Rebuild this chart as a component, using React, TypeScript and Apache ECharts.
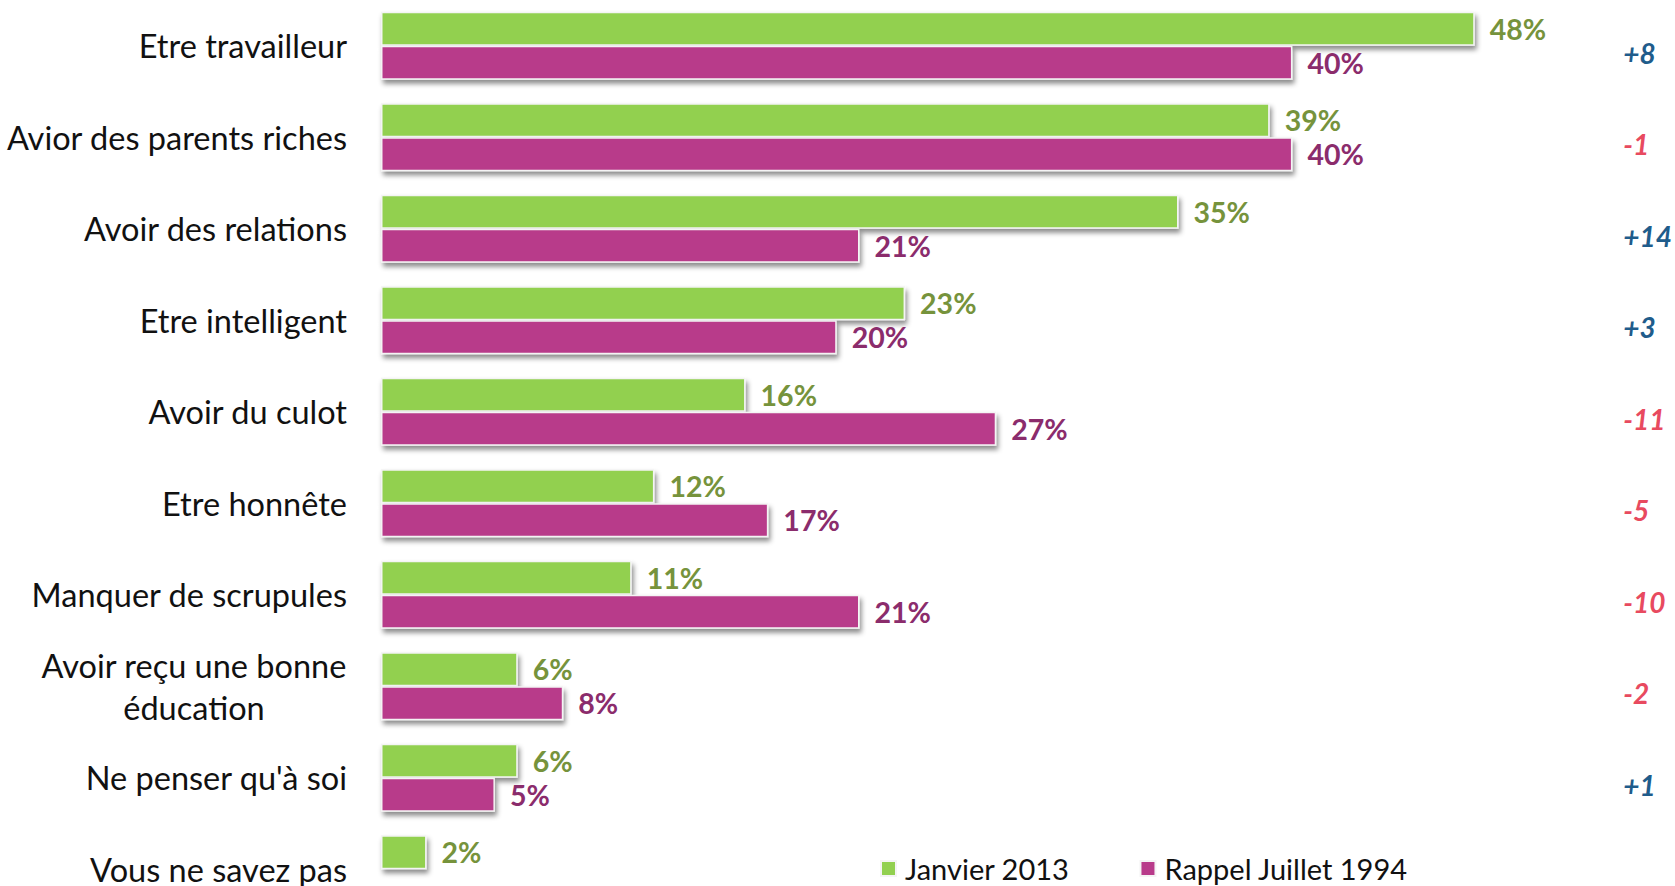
import React, { useEffect, useRef } from "react";
import * as echarts from "echarts";

const categories = [
  "Etre travailleur",
  "Avior des parents riches",
  "Avoir des relations",
  "Etre intelligent",
  "Avoir du culot",
  "Etre honnête",
  "Manquer de scrupules",
  "Avoir reçu une bonne\néducation",
  "Ne penser qu'à soi",
  "Vous ne savez pas",
];
const janvier2013 = [48, 39, 35, 23, 16, 12, 11, 6, 6, 2];
const juillet1994: (number | null)[] = [40, 40, 21, 20, 27, 17, 21, 8, 5, null];
const differences = ["+8", "-1", "+14", "+3", "-11", "-5", "-10", "-2", "+1", ""];
const seriesNames = ["Janvier 2013", "Rappel Juillet 1994"];

const FONT = "Lato";

export default function App() {
  const ref = useRef<HTMLDivElement>(null);
  useEffect(() => {
    if (!ref.current) return;
    document.body.style.overflow = "hidden";
    const chart = echarts.init(ref.current, undefined, { renderer: "svg" });
    const barShadow = {
      shadowBlur: 5,
      shadowOffsetX: 2,
      shadowOffsetY: 4,
      shadowColor: "rgba(0,0,0,0.45)",
      borderColor: "#f4f4f4",
      borderWidth: 1.5,
    };
    chart.setOption({
      animation: false,
      grid: { left: 381, top: 0, width: 1140, height: 915, containLabel: false },
      legend: {
        left: 875,
        top: 849,
        itemWidth: 15,
        itemHeight: 15,
        itemGap: 70,
        icon: "rect",
        data: seriesNames,
        textStyle: { fontFamily: FONT, fontSize: 29, color: "#111", padding: [0, 0, 0, 4] },
      },
      xAxis: { type: "value", min: 0, max: 50, show: false },
      yAxis: [
        {
          type: "category",
          inverse: true,
          data: categories,
          axisLine: { show: false },
          axisTick: { show: false },
          axisLabel: {
            margin: 34,
            fontFamily: FONT,
            fontSize: 32.5,
            color: "#111",
            formatter: (v: string) =>
              v.indexOf("\n") >= 0
                ? v.split("\n").map((l) => `{c|${l}}`).join("\n")
                : v,
            rich: {
              c: { width: 306, align: "center", fontFamily: FONT, fontSize: 32.5, color: "#111", lineHeight: 42 },
            },
          },
        },
        {
          type: "category",
          inverse: true,
          position: "right",
          data: differences,
          axisLine: { show: false },
          axisTick: { show: false },
          axisLabel: {
            margin: 103,
            formatter: (v: string) => (v.startsWith("+") ? `{pos|${v}}` : `{neg|${v}}`),
            rich: {
              pos: { fontFamily: FONT, fontSize: 28, fontWeight: "bold", fontStyle: "italic", color: "#1F5C8B", padding: [14, 0, 0, 0] },
              neg: { fontFamily: FONT, fontSize: 28, fontWeight: "bold", fontStyle: "italic", color: "#E84A5F", padding: [14, 0, 0, 0] },
            },
          },
        },
      ],
      series: [
        {
          name: seriesNames[0],
          type: "bar",
          data: janvier2013,
          barWidth: 34,
          barGap: "0%",
          itemStyle: { color: "#92D050", ...barShadow },
          label: {
            show: true,
            position: "right",
            distance: 15,
            formatter: "{c}%",
            fontFamily: FONT,
            fontSize: 28.5,
            fontWeight: "bold",
            color: "#76933C",
          },
        },
        {
          name: seriesNames[1],
          type: "bar",
          data: juillet1994,
          barWidth: 34,
          itemStyle: { color: "#B83B8A", ...barShadow },
          label: {
            show: true,
            position: "right",
            distance: 15,
            formatter: "{c}%",
            fontFamily: FONT,
            fontSize: 28.5,
            fontWeight: "bold",
            color: "#8B2C6C",
          },
        },
      ],
    });
    return () => chart.dispose();
  }, []);
  return (
    <div
      ref={ref}
      style={{ position: "fixed", left: 0, top: 0, width: 1675, height: 930, background: "#fff" }}
    />
  );
}
